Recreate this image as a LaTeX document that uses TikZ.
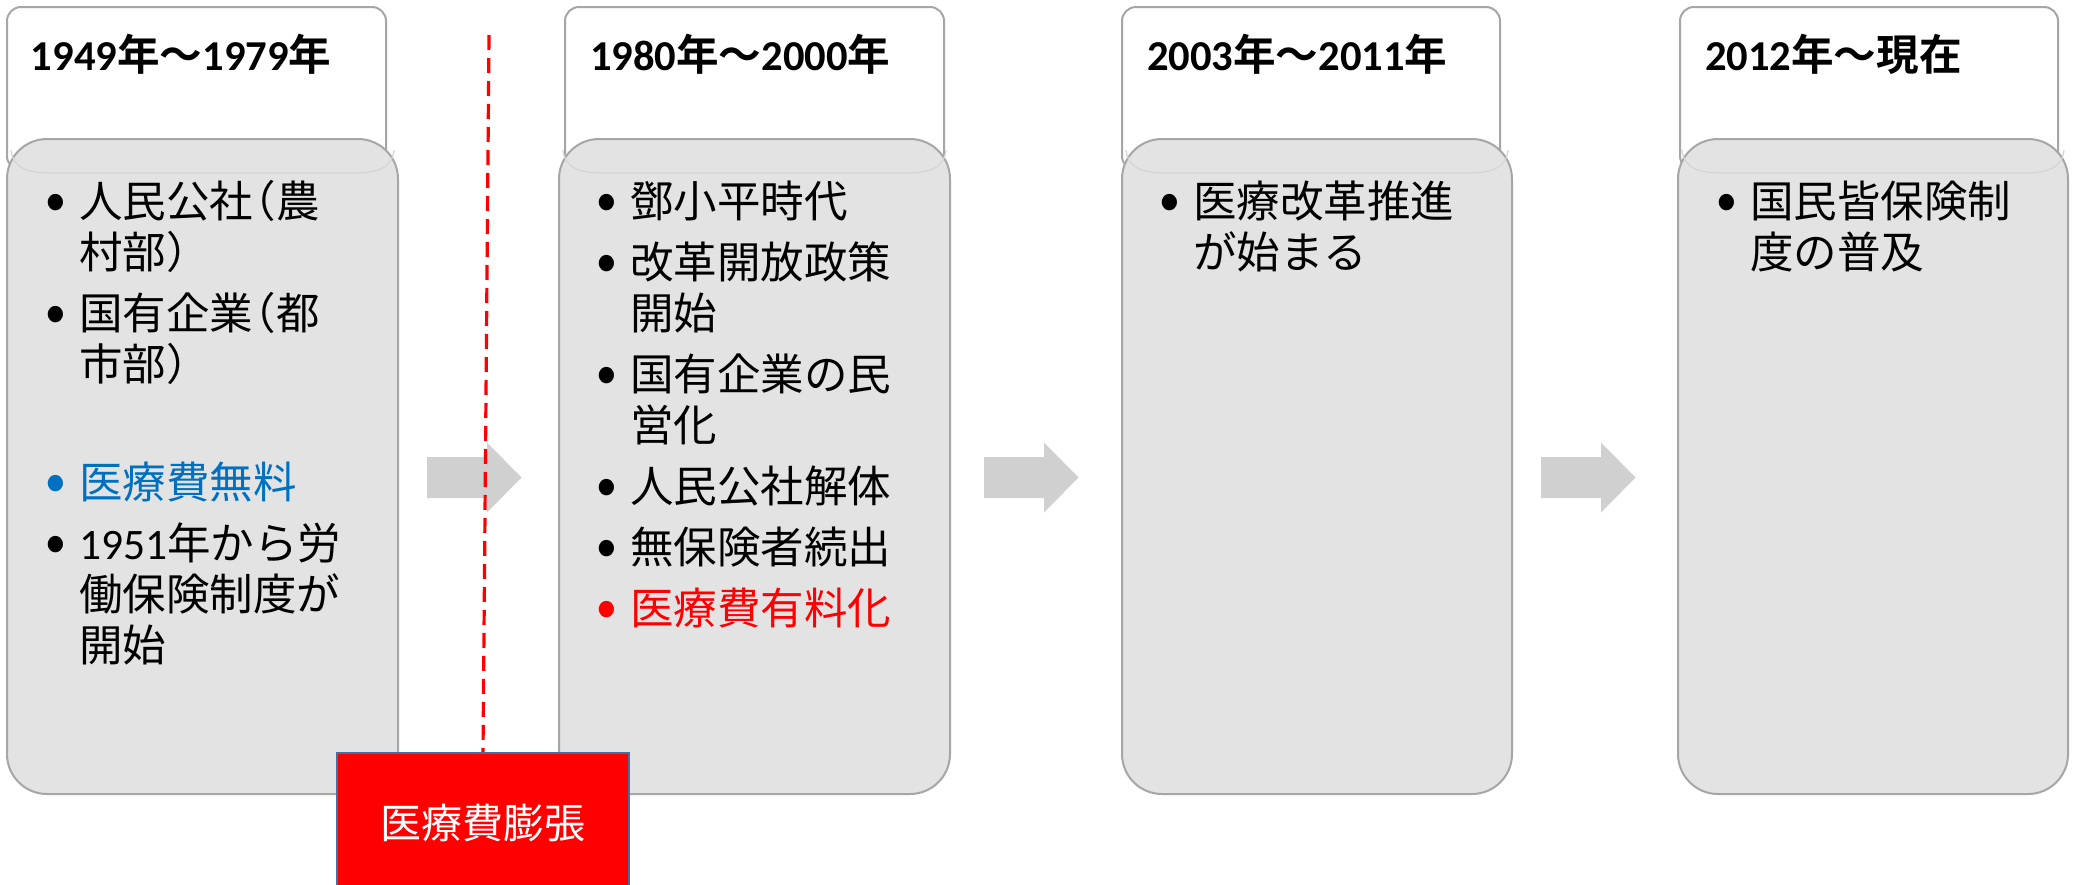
\documentclass[tikz,border=0pt]{standalone}
\usepackage{fontspec}
\usepackage{graphicx}
\setmainfont{Noto Sans CJK JP}[BoldFont={Noto Sans CJK JP Bold}]
\newfontfamily\lat{Carlito}
\definecolor{boxgray}{RGB}{227,227,227}
\definecolor{bandgray}{RGB}{212,212,212}
\definecolor{linegray}{RGB}{166,166,166}
\definecolor{arrowgray}{RGB}{208,208,208}
\definecolor{itemblue}{RGB}{0,112,192}
\definecolor{frameblue}{RGB}{65,113,156}
\newcommand{\bul}{\makebox[15pt][l]{\makebox[7pt][c]{\raisebox{-0.09em}{\scalebox{1.4}{•}}}}}
\newcommand{\ind}{\hspace*{15pt}}
\newcommand{\sr}{\rule{0pt}{20pt}}
\newcommand{\lp}{\makebox[11.5pt][r]{（}}
\newcommand{\rp}{\makebox[11.5pt][l]{）}}

\begin{document}
\begin{tikzpicture}[
 x=0.5pt, y=-0.5pt,
 line width=1pt,
 header/.style={draw=linegray,fill=white,rounded corners=7pt},
 body/.style={draw=linegray,fill=boxgray,rounded corners=20pt},
 band/.style={draw=bandgray,line width=0.6pt},
 blockarrow/.style={fill=arrowgray},
 year/.style={anchor=base west,inner sep=0,font=\bfseries\fontsize{21.3}{25}\selectfont},
 items/.style={anchor=north west,inner sep=0,align=left,font=\fontsize{21.75}{25.5}\selectfont},
 cost/.style={draw=frameblue,fill=red,text=white,inner sep=0,minimum width=146pt,minimum height=70pt,font=\fontsize{20.5}{24}\selectfont}
]
\useasboundingbox (0,0) rectangle (2075,884);
\fill[white] (0,0) rectangle (2075,884);

% headers
\draw[header] (7,7) rectangle (386,170);
\draw[header] (565,7) rectangle (944,170);
\draw[header] (1122,7) rectangle (1500,170);
\draw[header] (1680,7) rectangle (2058,170);

% bodies
\draw[body] (7,139) rectangle (398,794);
\draw[body] (559,139) rectangle (950,794);
\draw[body] (1122,139) rectangle (1512,794);
\draw[body] (1678,139) rectangle (2068,794);
\foreach \bx/\bw in {7/391,559/391,1122/390,1678/390}
  \draw[band] (\bx+4,150) .. controls (\bx+6,168) and (\bx+20,173) .. (\bx+45,173)
    -- (\bx+\bw-45,173) .. controls (\bx+\bw-20,173) and (\bx+\bw-6,168) .. (\bx+\bw-4,150);

\node (year1) [year] at (30,70) {{\lat 1949}年～{\lat 1979}年};
\node (year2) [year] at (589,70) {{\lat 1980}年～{\lat 2000}年};
\node (year3) [year] at (1146,70) {{\lat 2003}年～{\lat 2011}年};
\node (year4) [year] at (1704,70) {{\lat 2012}年～現在};

\node (items1) [items] at (48,176) {\sr\bul 人民公社\lp 農\\
 \ind 村部\rp\\[5pt]
 \bul 国有企業\lp 都\\
 \ind 市部\rp\\[33.5pt]
 {\color{itemblue}\bul 医療費無料}\\[5pt]
 \bul {\lat 1951}年から労\\
 \ind 働保険制度が\\
 \ind 開始};
\node (items2) [items] at (599,176) {\sr\bul 鄧小平時代\\[5pt]
 \bul 改革開放政策\\
 \ind 開始\\[5pt]
 \bul 国有企業の民\\
 \ind 営化\\[5pt]
 \bul 人民公社解体\\[5pt]
 \bul 無保険者続出\\[5pt]
 {\color{red}\bul 医療費有料化}};
\node (items3) [items] at (1162,176) {\sr\bul 医療改革推進\\
 \ind が始まる};
\node (items4) [items] at (1719,176) {\sr\bul 国民皆保険制\\
 \ind 度の普及};

% arrows between periods
\foreach \ax in {427,984,1541}
  \fill[blockarrow] (\ax,457) -- ++(60,0) -- ++(0,-14.5) -- ++(34.5,35)
    -- ++(-34.5,35) -- ++(0,-14.5) -- ++(-60,0) -- cycle;

\node (cost) [cost,anchor=north] at (483,752) {医療費膨張};
\coordinate (dashtop) at (489,35);
\draw[red,line width=1.6pt,dash pattern=on 7.5pt off 4pt] (dashtop) -- (cost.north);
\end{tikzpicture}
\end{document}
